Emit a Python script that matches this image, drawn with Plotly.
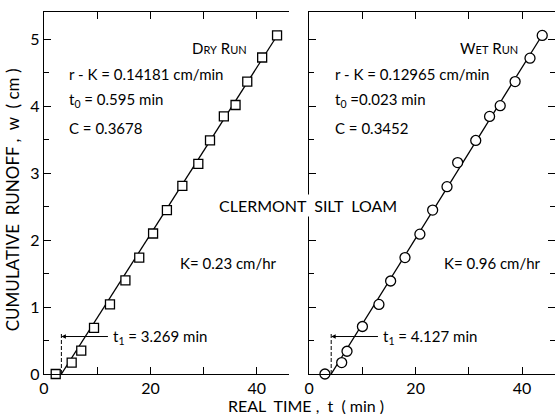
import plotly.graph_objects as go

# ---- data ----
dry_t = [2.2, 5.2, 7.0, 9.4, 12.4, 15.3, 17.9, 20.5, 23.1, 26.0, 29.0, 31.2, 33.8, 36.0, 38.2, 41.0, 43.8]
dry_w = [0.0, 0.17, 0.35, 0.69, 1.04, 1.40, 1.74, 2.10, 2.45, 2.81, 3.14, 3.49, 3.85, 4.02, 4.37, 4.73, 5.06]
wet_t = [2.95, 6.1, 7.1, 10.0, 13.1, 15.3, 18.0, 20.8, 23.2, 25.9, 27.9, 31.3, 33.9, 35.9, 38.7, 41.5, 43.8]
wet_w = [0.0, 0.17, 0.34, 0.71, 1.04, 1.39, 1.74, 2.09, 2.45, 2.80, 3.16, 3.49, 3.85, 4.01, 4.37, 4.72, 5.06]

dry_fit_t = [3.269, 44.4]
dry_fit_w = [0.0, 5.13]
wet_fit_t = [4.127, 44.3]
wet_fit_w = [0.0, 5.13]

dry_t1 = 3.269
wet_t1 = 4.127

x_tickvals = [0, 10, 20, 30, 40]
x_ticktext = ["0", "", "20", "", "40"]
y_tickvals = [0, 1, 2, 3, 4, 5]
y_ticktext = ["0", "1", "2", "3", "4", "5"]

FONT = "Lato"
W, H = 555, 414
ML, MR, MT, MB = 43.5, 0, 12, 39.5

fig = go.Figure()

# fit lines
fig.add_trace(go.Scatter(x=dry_fit_t, y=dry_fit_w, mode="lines",
                         line=dict(color="black", width=1.3), xaxis="x", yaxis="y",
                         showlegend=False, cliponaxis=False))
fig.add_trace(go.Scatter(x=wet_fit_t, y=wet_fit_w, mode="lines",
                         line=dict(color="black", width=1.3), xaxis="x2", yaxis="y2",
                         showlegend=False, cliponaxis=False))
# markers
fig.add_trace(go.Scatter(x=dry_t, y=dry_w, mode="markers",
                         marker=dict(symbol="square", size=9, color="white",
                                     line=dict(color="black", width=1.3)),
                         xaxis="x", yaxis="y", showlegend=False, cliponaxis=False))
fig.add_trace(go.Scatter(x=wet_t, y=wet_w, mode="markers",
                         marker=dict(symbol="circle", size=10, color="white",
                                     line=dict(color="black", width=1.3)),
                         xaxis="x2", yaxis="y2", showlegend=False, cliponaxis=False))

axis_common = dict(showgrid=False, zeroline=False, showline=True, linecolor="black",
                   linewidth=1.3, ticks="inside", ticklen=7, tickwidth=1.2,
                   tickcolor="black", tickfont=dict(family=FONT, size=16, color="black"))

pw = W - ML - MR
left_end = (288.5 - ML) / pw
right_start = (309 - ML) / pw

fig.update_layout(
    width=W, height=H,
    margin=dict(l=ML, r=MR, t=MT, b=MB, pad=0),
    plot_bgcolor="white", paper_bgcolor="white",
    font=dict(family=FONT, color="black"),
    xaxis=dict(domain=[0, left_end], range=[0, 46], tickvals=x_tickvals, ticktext=x_ticktext,
               mirror="ticks", anchor="y", **axis_common),
    xaxis2=dict(domain=[right_start, 1], range=[0, 46.2], tickvals=x_tickvals, ticktext=x_ticktext,
                mirror="ticks", anchor="y2", **axis_common),
    yaxis=dict(domain=[0, 1], range=[0, 5.41], tickvals=y_tickvals, ticktext=y_ticktext,
               minor=dict(dtick=0.5, ticks="inside", ticklen=5, tickcolor="black"),
               anchor="x", **axis_common),
    yaxis2=dict(domain=[0, 1], range=[0, 5.41], tickvals=y_tickvals, showticklabels=False,
                minor=dict(dtick=0.5, ticks="inside", ticklen=5, tickcolor="black"),
                mirror="ticks", anchor="x2", **axis_common),
)

# t1 dashed markers and arrows
for xa, ya, t1, tx in [("x", "y", dry_t1, 12.6), ("x2", "y2", wet_t1, 13.5)]:
    fig.add_shape(type="line", xref=xa, yref=ya, x0=t1, x1=t1, y0=0, y1=0.6,
                  line=dict(color="black", width=1, dash="4px,2px"))
    fig.add_annotation(xref=xa, yref=ya, x=t1, y=0.56, axref=xa, ayref=ya, ax=tx - 0.3, ay=0.56,
                       text="", showarrow=True, arrowhead=2, arrowsize=0.9, arrowwidth=1,
                       arrowcolor="black")

txt = dict(showarrow=False, font=dict(family=FONT, size=15, color="black"))
small = "font-size:11px"

def sc(word):
    return word[0] + "<span style='%s'>%s</span>" % (small, word[1:])

panel_text = [
    ("x", "y", "0.14181", "0.595", "0.3678", "0.23", dry_t1, 12.6, 38.6, sc("DRY") + " " + sc("RUN"),
     " = ", 25.2),
    ("x2", "y2", "0.12965", "0.023", "0.3452", "0.96", wet_t1, 13.5, 39.6, sc("WET") + " " + sc("RUN"),
     " =", 24.9),
]
for xa, ya, rk, t0, c, k, t1, tx, runx, runlabel, t0eq, kx in panel_text:
    fig.add_annotation(xref=xa, yref=ya, x=runx, y=4.87, text=runlabel, xanchor="right", **txt)
    fig.add_annotation(xref=xa, yref=ya, x=4.4, y=4.49, text="r - K = %s cm/min" % rk, xanchor="left", **txt)
    fig.add_annotation(xref=xa, yref=ya, x=4.4, y=4.10, text="t<sub>0</sub>%s%s min" % (t0eq, t0), xanchor="left", **txt)
    fig.add_annotation(xref=xa, yref=ya, x=4.4, y=3.68, text="C = %s" % c, xanchor="left", **txt)
    fig.add_annotation(xref=xa, yref=ya, x=kx, y=1.66, text="K= %s cm/hr" % k, xanchor="left", **txt)
    fig.add_annotation(xref=xa, yref=ya, x=tx, y=0.56, text="t<sub>1</sub> = %.3f min" % t1, xanchor="left", **txt)

# center label
fig.add_annotation(xref="paper", yref="paper", x=(308 - ML) / pw, y=(H - MB - 206) / (H - MT - MB),
                   text="CLERMONT  SILT  LOAM", showarrow=False, bgcolor="white",
                   font=dict(family=FONT, size=16, color="black"), xanchor="center", yanchor="middle")

# axis titles
fig.add_annotation(xref="paper", yref="paper", x=(12 - ML) / pw, y=(H - MB - 200) / (H - MT - MB),
                   text="CUMULATIVE  RUNOFF ,  w  ( cm )", textangle=-90, showarrow=False,
                   font=dict(family=FONT, size=17, color="black"), xanchor="center", yanchor="middle")
fig.add_annotation(xref="paper", yref="paper", x=(306 - ML) / pw, y=(H - MB - 406) / (H - MT - MB),
                   text="REAL  TIME ,  t  ( min )", showarrow=False,
                   font=dict(family=FONT, size=16, color="black"), xanchor="center", yanchor="middle")

fig.write_html("out.html", config={"displayModeBar": False},
               post_script="document.body.style.margin='0';document.body.style.overflow='hidden';")
